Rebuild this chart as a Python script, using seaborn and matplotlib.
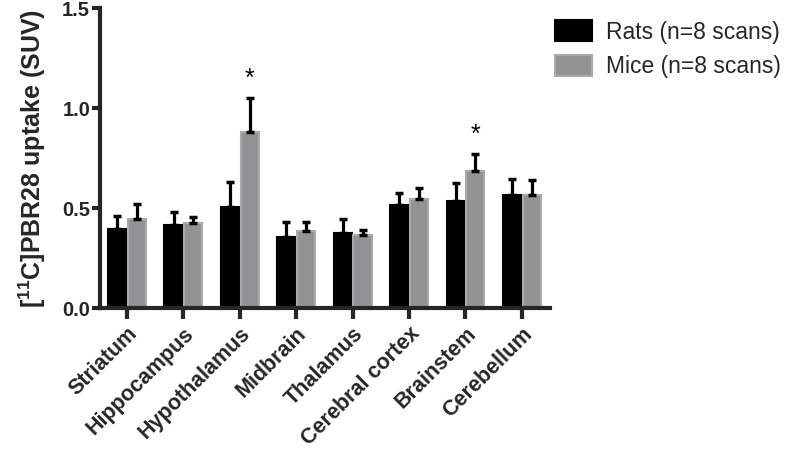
import matplotlib
matplotlib.use("Agg")
import matplotlib.pyplot as plt
from matplotlib.patches import Patch
import seaborn as sns
import pandas as pd
import numpy as np

regions = ["Striatum", "Hippocampus", "Hypothalamus", "Midbrain",
           "Thalamus", "Cerebral cortex", "Brainstem", "Cerebellum"]
groups = ["Rats (n=8 scans)", "Mice (n=8 scans)"]
rats_mean = [0.395, 0.415, 0.505, 0.353, 0.375, 0.513, 0.533, 0.565]
rats_err = [0.065, 0.063, 0.123, 0.075, 0.072, 0.063, 0.093, 0.082]
mice_mean = [0.445, 0.425, 0.878, 0.385, 0.365, 0.547, 0.685, 0.565]
mice_err = [0.073, 0.028, 0.172, 0.043, 0.025, 0.053, 0.085, 0.075]
mice_sig = ["", "", "*", "", "", "", "*", ""]
yticks = [0.0, 0.5, 1.0, 1.5]

sns.set_style("ticks")
plt.rcParams["font.family"] = ["Liberation Sans", "DejaVu Sans"]
plt.rcParams["mathtext.fontset"] = "custom"
plt.rcParams["mathtext.rm"] = "Liberation Sans"
plt.rcParams["mathtext.bf"] = "Liberation Sans:bold"

df = pd.DataFrame({
    "region": regions * 2,
    "group": [groups[0]] * len(regions) + [groups[1]] * len(regions),
    "value": rats_mean + mice_mean,
})

fig = plt.figure(figsize=(7.87, 4.51), dpi=100)
ax = fig.add_axes([0.127, 0.317, 0.572, 0.665])

face = {groups[0]: "#000000", groups[1]: "#939396"}
sns.barplot(data=df, x="region", y="value", hue="group", order=regions,
            hue_order=groups, palette=face, errorbar=None, width=0.7,
            gap=0.08, ax=ax, legend=False)

n = len(regions)
patches = ax.patches[:2 * n]
edge = ["#000000"] * n + ["#aaaaaa"] * n
for p, ec in zip(patches, edge):
    p.set_edgecolor(ec)
    p.set_linewidth(1.5)

errs = rats_err + mice_err
means = rats_mean + mice_mean
xs = [p.get_x() + p.get_width() / 2 for p in patches]
ax.errorbar(xs, means, yerr=[np.zeros(len(errs)), errs], fmt="none",
            ecolor="black", elinewidth=2.3, capsize=3.2, capthick=2.5, zorder=1)

for i, s in enumerate(mice_sig):
    if s:
        ax.text(xs[n + i], mice_mean[i] + mice_err[i] + 0.035, s,
                ha="center", va="bottom", fontsize=18, color="black")

ax.set_ylim(0, 1.5)
ax.set_xlim(-0.48, n - 0.5)
ax.set_yticks(yticks)
ax.set_yticklabels([f"{t:.1f}" for t in yticks], fontsize=14.5, fontweight="bold")
ax.set_xticks(range(n))
ax.set_xticklabels(regions, rotation=45, ha="right", rotation_mode="anchor",
                   fontsize=15.5, fontweight="bold")
ax.set_xlabel("")
ax.set_ylabel(r"[$^{\mathbf{11}}$C]PBR28 uptake (SUV)", fontsize=18,
              fontweight="bold", labelpad=10)

for side in ["top", "right"]:
    ax.spines[side].set_visible(False)
for side in ["left", "bottom"]:
    ax.spines[side].set_linewidth(3)
ax.tick_params(axis="y", width=3, length=6, pad=1)
ax.tick_params(axis="x", width=3, length=8, pad=3)

handles = [Patch(facecolor="#000000", edgecolor="#000000", linewidth=1.5),
           Patch(facecolor="#939396", edgecolor="#aaaaaa", linewidth=1.5)]
fig.legend(handles, groups, loc="upper left", bbox_to_anchor=(0.694, 0.975),
           frameon=False, fontsize=16.5, handlelength=1.6, handleheight=1.0,
           handletextpad=0.6, labelspacing=0.5, borderaxespad=0)

fig.savefig("out.png", dpi=100)
